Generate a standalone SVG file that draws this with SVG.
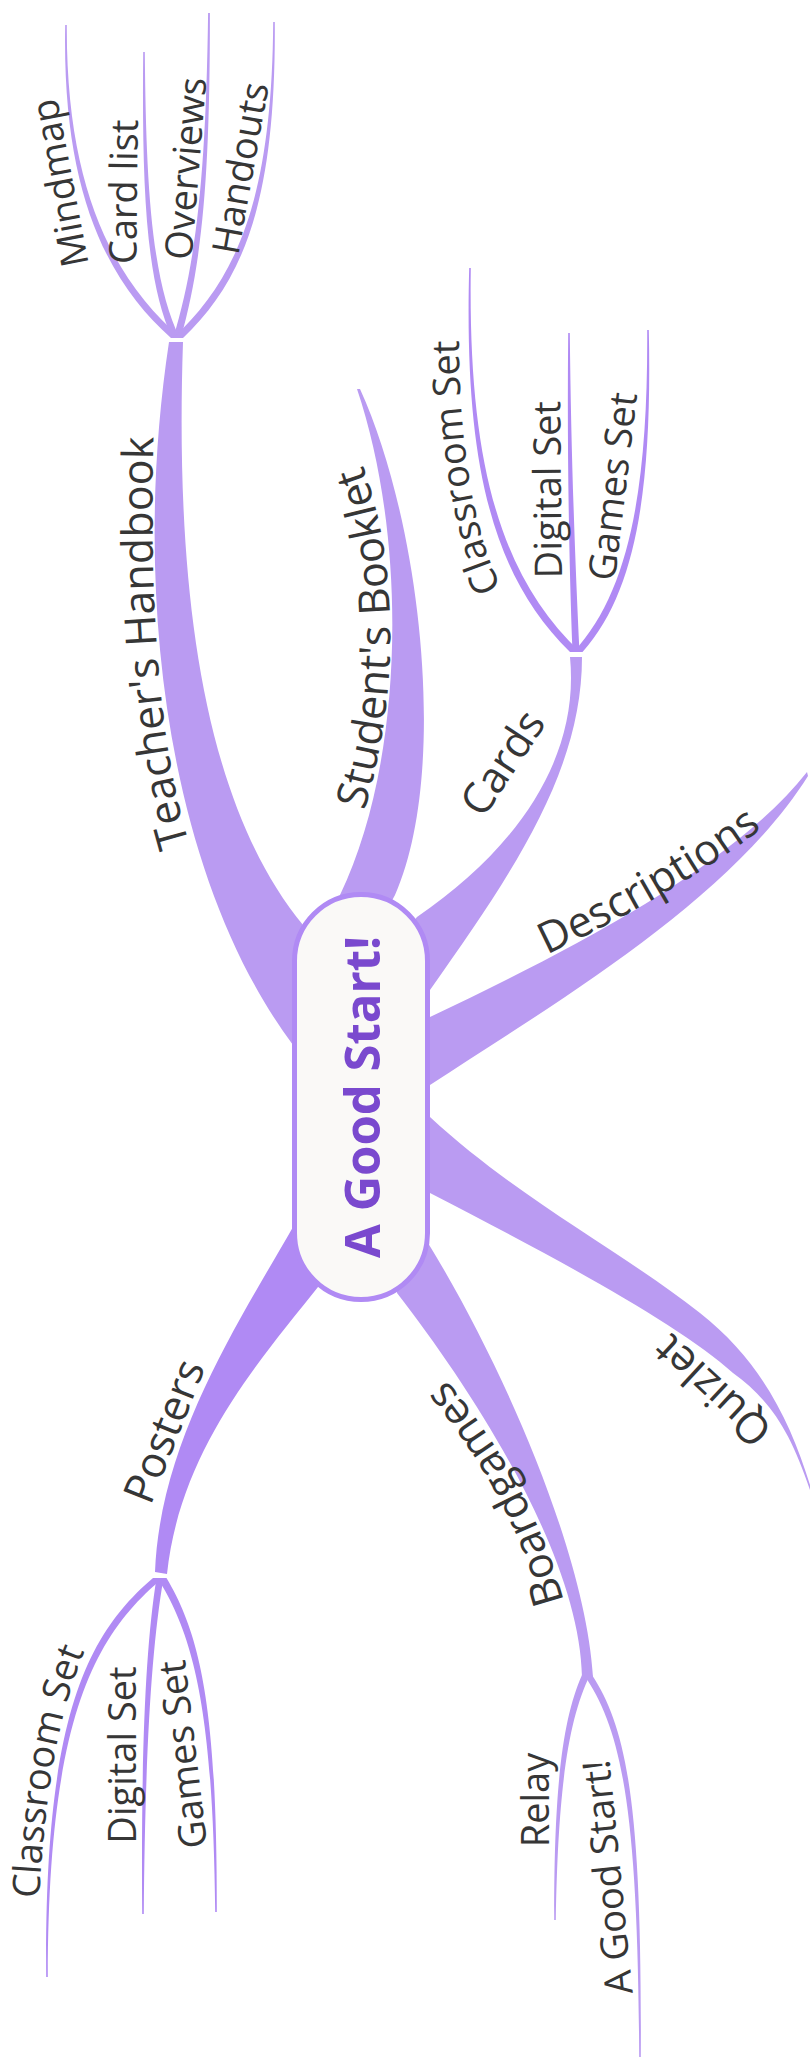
<svg xmlns="http://www.w3.org/2000/svg" width="811" height="2067" viewBox="0 0 811 2067">
<style>
.a{fill:#BA9BF2}
.b{fill:#B08AF4}
.l{font-family:"Open Sans","Noto Sans","Liberation Sans",sans-serif;fill:#363636}
.m{font-size:43px}
.s{font-size:38px}
.pill{fill:#FAF9F7;stroke:#B08AF4;stroke-width:5}
.ct{font-family:"Open Sans","Noto Sans","Liberation Sans",sans-serif;font-weight:700;font-size:49px;fill:#7A49CE}
</style>
<defs>
<path id="p-teacher" d="M196,865 C160,760 148,620 154,415"/>
<path id="p-student" d="M362,818 C400,700 400,560 360,458"/>
<path id="p-cards" d="M476,830 L554,712"/>
<path id="p-desc" d="M540,958 Q680,892 768,824"/>
<path id="p-quizlet" d="M800,1452 L645,1308"/>
<path id="p-board" d="M570,1622 L563,1598 Q532,1484 448,1382 L432,1363"/>
<path id="p-posters" d="M143,1525 L213,1348"/>
<path id="p-mindmap" d="M92.3,282.7 L53.2,78.3"/>
<path id="p-cardlist" d="M136,280 L138,104"/>
<path id="p-overviews" d="M190,279 L208,60"/>
<path id="p-handouts" d="M234,279 L273,62"/>
<path id="p-cclass" d="M512,605 C480,560 457,460 459,320"/>
<path id="p-cdigital" d="M562,590 L560,389"/>
<path id="p-cgames" d="M613,597 L639,379"/>
<path id="p-pclass" d="M38,1925 L39,1905 Q46,1739 87,1645 L95,1627"/>
<path id="p-pdigital" d="M136,1860 L136,1650"/>
<path id="p-pgames" d="M209,1862 L183,1644"/>
<path id="p-relay" d="M549,1870 L549,1730"/>
<path id="p-goodstart" d="M634,2005 L608,1747"/>
</defs>
<g id="connectors">
<path class="a" d="M183,342 C175,580 200,800 303,925 L340,1000 L293,1045 C170,880 130,600 169,342 Z"/>
<path class="a" d="M357,389 L360,389 C420,520 450,770 395,895 L365,950 L340,895 C405,760 408,540 357,389 Z"/>
<path class="a" d="M570,657 L582,657 C582,770 515,870 430,990 L380,960 L417,917 C515,850 580,760 570,657 Z"/>
<path class="a" d="M430,1017 C560,955 730,870 807,772 L808,776 C730,900 560,1000 430,1085 L390,1050 Z"/>
<path class="a" d="M430,1117 C520,1200 620,1250 700,1313 C760,1360 790,1420 810,1485 L810,1490 C790,1430 770,1400 733,1373 C680,1325 560,1260 430,1193 L390,1150 Z"/>
<path class="a" d="M397,1293 C480,1400 580,1560 582,1677 L593,1677 C585,1550 500,1360 428,1243 L400,1240 Z"/>
<path class="b" d="M293,1227 C240,1320 160,1440 155,1572 L167,1574 C180,1450 260,1360 318,1287 L330,1250 Z"/>
<path class="a" d="M171,338 C106,280 62,190 65.2,25 L66.8,25 C66,190 114,280 181,338 Z"/>
<path class="a" d="M172.2,338 C145,280 142,180 143.2,52 L144.8,52 C146,180 151,280 179.8,338 Z"/>
<path class="a" d="M173.2,338 C197,260 206,170 208.1,13 L209.9,13 C210,170 203,260 180.8,338 Z"/>
<path class="a" d="M173,338 C236,280 272,200 273.2,22 L274.8,22 C276,200 244,280 183,338 Z"/>
<path class="b" d="M570,652 C491,575 464,460 469.2,268 L470.8,268 C468,460 499,575 580,652 Z"/>
<path class="b" d="M572.5,652 C569,560 567,450 568.2,333 L569.8,333 C571,450 575,560 579.5,652 Z"/>
<path class="b" d="M573.5,652 C631.5,590 648,480 647.2,330 L648.8,330 C652,480 638.5,590 582.5,652 Z"/>
<path class="b" d="M153,1578 C86,1635 44,1720 46.2,1977 L47.8,1977 C48,1720 94,1635 163,1578 Z"/>
<path class="b" d="M156.5,1578 C145,1650 141,1760 142.2,1914 L143.8,1914 C145,1760 151,1650 163.5,1578 Z"/>
<path class="b" d="M157.5,1578 C196.5,1640 213,1720 215.2,1912 L216.8,1912 C217,1720 203.5,1640 166.5,1578 Z"/>
<path class="a" d="M582,1675 C562,1720 554,1790 554.2,1920 L555.8,1920 C558,1790 568,1720 590,1675 Z"/>
<path class="a" d="M584,1675 C622,1730 638,1810 639.2,2057 L640.8,2057 C642,1810 628,1730 592,1675 Z"/>
</g>
<g id="node-center">
<rect class="pill" x="294.5" y="894.5" width="133" height="405" rx="66.5" ry="66.5"/>
<text class="ct" transform="translate(380,1097) rotate(-90)" text-anchor="middle">A Good Start!</text>
</g>
<g id="node-teacher"><text class="l m"><textPath href="#p-teacher" startOffset="50%" text-anchor="middle">Teacher's Handbook</textPath></text></g>
<g id="node-student"><text class="l m"><textPath href="#p-student" startOffset="50%" text-anchor="middle">Student's Booklet</textPath></text></g>
<g id="node-cards"><text class="l m"><textPath href="#p-cards" startOffset="50%" text-anchor="middle">Cards</textPath></text></g>
<g id="node-descriptions"><text class="l m"><textPath href="#p-desc" startOffset="50%" text-anchor="middle">Descriptions</textPath></text></g>
<g id="node-quizlet"><text class="l m"><textPath href="#p-quizlet" startOffset="50%" text-anchor="middle">Quizlet</textPath></text></g>
<g id="node-boardgames"><text class="l m"><textPath href="#p-board" startOffset="50%" text-anchor="middle">Boardgames</textPath></text></g>
<g id="node-posters"><text class="l m"><textPath href="#p-posters" startOffset="50%" text-anchor="middle">Posters</textPath></text></g>
<g id="node-mindmap"><text class="l s"><textPath href="#p-mindmap" startOffset="50%" text-anchor="middle">Mindmap</textPath></text></g>
<g id="node-cardlist"><text class="l s"><textPath href="#p-cardlist" startOffset="50%" text-anchor="middle">Card list</textPath></text></g>
<g id="node-overviews"><text class="l s"><textPath href="#p-overviews" startOffset="50%" text-anchor="middle">Overviews</textPath></text></g>
<g id="node-handouts"><text class="l s"><textPath href="#p-handouts" startOffset="50%" text-anchor="middle">Handouts</textPath></text></g>
<g id="node-cards-classroom"><text class="l s"><textPath href="#p-cclass" startOffset="50%" text-anchor="middle">Classroom Set</textPath></text></g>
<g id="node-cards-digital"><text class="l s"><textPath href="#p-cdigital" startOffset="50%" text-anchor="middle">Digital Set</textPath></text></g>
<g id="node-cards-games"><text class="l s"><textPath href="#p-cgames" startOffset="50%" text-anchor="middle">Games Set</textPath></text></g>
<g id="node-posters-classroom"><text class="l s"><textPath href="#p-pclass" startOffset="50%" text-anchor="middle">Classroom Set</textPath></text></g>
<g id="node-posters-digital"><text class="l s"><textPath href="#p-pdigital" startOffset="50%" text-anchor="middle">Digital Set</textPath></text></g>
<g id="node-posters-games"><text class="l s"><textPath href="#p-pgames" startOffset="50%" text-anchor="middle">Games Set</textPath></text></g>
<g id="node-relay"><text class="l s"><textPath href="#p-relay" startOffset="50%" text-anchor="middle">Relay</textPath></text></g>
<g id="node-goodstart"><text class="l s"><textPath href="#p-goodstart" startOffset="50%" text-anchor="middle">A Good Start!</textPath></text></g>
</svg>
